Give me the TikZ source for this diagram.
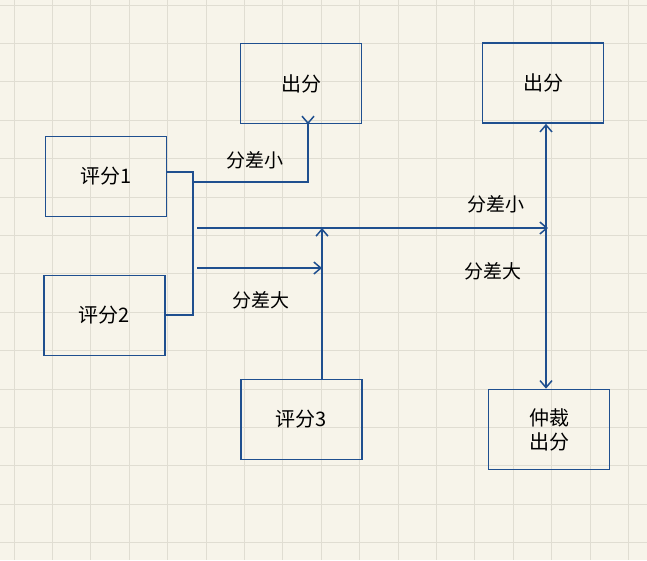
\documentclass[tikz,border=0pt]{standalone}
\usepackage{fontspec}
\setmainfont{Noto Sans CJK SC}
\usetikzlibrary{arrows.meta}
\definecolor{bg}{HTML}{F7F4EA}
\definecolor{gridc}{HTML}{E0DDD2}
\definecolor{ln}{HTML}{1F4F8F}
\tikzset{
  box/.style={draw=ln,line width=1.6pt,minimum width=121pt,minimum height=80pt,inner sep=0pt,font=\fontsize{20}{24}\selectfont,align=center},
  conn/.style={draw=ln,line width=1.5pt},
  arr/.style={conn,-{Straight Barb[length=7pt,width=12pt,line width=1.5pt]}},
  lbl/.style={font=\fontsize{19}{22}\selectfont,inner sep=0pt}
}
\begin{document}
\begin{tikzpicture}[x=1pt,y=-1pt]
\fill[bg] (0,0) rectangle (647,560);
\useasboundingbox (0,0) rectangle (647,560);
\foreach \i in {0,...,16} {\draw[gridc,line width=0.8pt] (14+38.4*\i,0) -- (14+38.4*\i,560);}
\foreach \i in {0,...,14} {\draw[gridc,line width=0.8pt] (0,5+38.4*\i) -- (647,5+38.4*\i);}
\node[box] (o1) at (301,83.5) {出分};
\node[box] (o2) at (543,83) {出分};
\node[box] (s1) at (106,176.5) {评分1};
\node[box] (s2) at (104.5,315.5) {评分2};
\node[box] (s3) at (301.5,419.5) {评分3};
\node[box] (ar) at (549,429.5) {仲裁\\出分};
\coordinate (j1) at (193,172);
\coordinate (j2) at (193,315);
\draw[conn] (s1.east |- j1) -- (j1) -- (j2) -- (s2.east |- j2);
\coordinate (a1) at (193,182);
\draw[arr] (a1) -| (308,124) -- (o1.south -| 308,0);
\coordinate (b1) at (197,228);
\coordinate (b2) at (548,228);
\draw[arr] (b1) -- (b2);
\coordinate (c1) at (197,268);
\coordinate (c2) at (322,268);
\draw[arr] (c1) -- (c2);
\coordinate (d2) at (322,228);
\draw[arr] (s3.north -| d2) -- (d2);
\draw[arr] (546,250) -- (o2.south -| 546,0);
\draw[arr] (546,250) -- (ar.north -| 546,0);
\node[lbl] (l1) at (255,160) {分差小};
\node[lbl] (l2) at (496,204) {分差小};
\node[lbl] (l3) at (493,271) {分差大};
\node[lbl] (l4) at (261,300) {分差大};
\end{tikzpicture}
\end{document}
